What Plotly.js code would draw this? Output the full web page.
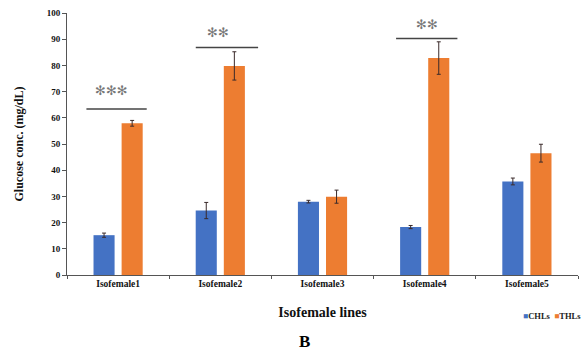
<!DOCTYPE html>
<html>
<head>
<meta charset="utf-8">
<script src="https://cdn.plot.ly/plotly-3.0.1.min.js"></script>
<style>html,body{margin:0;padding:0;background:#fff;}#chart{width:583px;height:351px;}</style>
</head>
<body>
<div id="chart"></div>
<script>
var categories = ["Isofemale1", "Isofemale2", "Isofemale3", "Isofemale4", "Isofemale5"];
var seriesNames = ["CHLs", "THLs"];
var chlValues = [15.2, 24.6, 28.0, 18.3, 35.7];
var chlErrors = [0.8, 3.1, 0.5, 0.6, 1.3];
var thlValues = [57.9, 79.8, 29.9, 82.8, 46.5];
var thlErrors = [1.1, 5.4, 2.5, 6.2, 3.4];
var yTicks = [0, 10, 20, 30, 40, 50, 60, 70, 80, 90, 100];
var sigLabels = ["***", "**", "**"];
var sigLineY = [63.4, 86.8, 90.3];
var sigLineX0 = [-0.31, 0.76, 2.72];
var sigLineX1 = [0.28, 1.37, 3.32];
var sigStarX = [-0.06, 0.98, 3.02];
var sigStarY = [70.5, 92.5, 95.8];

var colors = ["#4472C4", "#ED7D31"];
var serif = "Liberation Serif, Times New Roman, serif";
var errStyle = {type: "data", visible: true, thickness: 1, width: 2, color: "#3a2a2a"};

var traces = [
  {type: "bar", name: seriesNames[0], x: categories, y: chlValues,
   error_y: Object.assign({array: chlErrors}, errStyle),
   marker: {color: colors[0]}},
  {type: "bar", name: seriesNames[1], x: categories, y: thlValues,
   error_y: Object.assign({array: thlErrors}, errStyle),
   marker: {color: colors[1]}}
];

var shapes = [];
var annotations = [];
for (var i = 0; i < sigLabels.length; i++) {
  shapes.push({type: "line", xref: "x", yref: "y", x0: sigLineX0[i], x1: sigLineX1[i],
    y0: sigLineY[i], y1: sigLineY[i], line: {color: "#444", width: 1.5}});
  annotations.push({xref: "x", yref: "y", x: sigStarX[i], y: sigStarY[i],
    text: sigLabels[i].replace(/\*/g, "\u273B"),
    showarrow: false, font: {family: "DejaVu Sans", size: 13, color: "#777"}, yanchor: "middle"});
}
annotations.push({xref: "paper", yref: "paper", x: 0.465, y: -0.255, xanchor: "center", yanchor: "middle",
  text: "<b>B</b>", showarrow: false, font: {family: serif, size: 17, color: "#000"}});
annotations.push({xref: "paper", yref: "paper", x: 1.01, y: -0.158, xanchor: "right", yanchor: "middle",
  text: '<span style="color:' + colors[0] + '">\u25A0</span><b>' + seriesNames[0] + '</b>  <span style="color:' + colors[1] + '">\u25A0</span><b>' + seriesNames[1] + '</b>',
  showarrow: false, font: {family: serif, size: 8.5, color: "#222"}});

var layout = {
  width: 583, height: 351,
  margin: {l: 67, r: 5, t: 13, b: 76},
  paper_bgcolor: "#fff", plot_bgcolor: "#fff",
  barmode: "group", bargap: 0.45, bargroupgap: 0.25,
  showlegend: false,
  xaxis: {type: "category", showline: true, linecolor: "#555", linewidth: 1,
    ticks: "outside", tickson: "boundaries", ticklen: 3, tickcolor: "#555",
    tickfont: {family: serif, size: 9.5, color: "#111", weight: "bold"},
    title: {text: "<b>Isofemale lines</b>", font: {family: serif, size: 14, color: "#111"}, standoff: 18},
    showgrid: false, zeroline: false},
  yaxis: {range: [0, 100], tickvals: yTicks, showline: true, linecolor: "#555", linewidth: 1,
    ticks: "outside", ticklen: 4, tickcolor: "#555",
    tickfont: {family: serif, size: 9, color: "#111", weight: "bold"},
    title: {text: "<b>Glucose conc. (mg/dL)</b>", font: {family: serif, size: 12, color: "#111"}, standoff: 20},
    showgrid: false, zeroline: false},
  shapes: shapes,
  annotations: annotations
};

Plotly.newPlot("chart", traces, layout, {displayModeBar: false, staticPlot: true});
</script>
</body>
</html>
